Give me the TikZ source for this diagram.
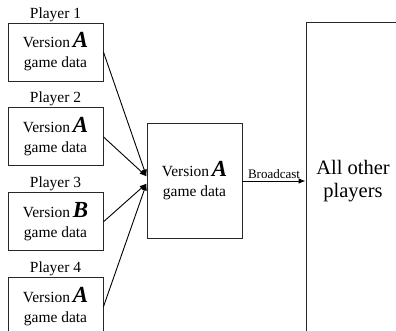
\documentclass[tikz,border=0pt]{standalone}
\usepackage{fontspec}
\setmainfont{Liberation Serif}
\usepackage{tikz}
\usetikzlibrary{arrows.meta, positioning}
\definecolor{mydark}{RGB}{40,40,40}
\newcommand{\verA}{Version\,{\fontsize{23}{23}\selectfont\bfseries\itshape A}}
\newcommand{\verB}{Version\,{\fontsize{23}{23}\selectfont\bfseries\itshape B}}
\tikzset{
  databox/.style={rectangle, draw=mydark, fill=white, line width=0.9pt,
    minimum width=95pt, minimum height=58pt, inner sep=2pt, align=center,
    font=\fontsize{15.5}{20}\selectfont},
  hubbox/.style={databox, minimum height=115pt},
  crowdbox/.style={rectangle, draw=mydark, line width=0.9pt,
    minimum width=94pt, minimum height=318pt, align=center,
    font=\fontsize{20.5}{23}\selectfont},
  player/.style={font=\fontsize{15.5}{16}\selectfont, inner sep=1pt},
  arrow/.style={-{Latex[length=7pt,width=5.5pt]}, line width=0.9pt, color=black}
}
\begin{document}
\begin{tikzpicture}[x=1pt, y=1pt, node distance=26pt]
  \clip (0,0) rectangle (396,330);
  \node[databox, label={[player]above:Player 1}] (p1) at (55.5,278) {\verA\\game data};
  \node[databox, below=of p1, label={[player]above:Player 2}] (p2) {\verA\\game data};
  \node[databox, below=of p2, label={[player]above:Player 3}] (p3) {\verB\\game data};
  \node[databox, below=of p3, label={[player]above:Player 4}] (p4) {\verA\\game data};

  \node[hubbox] (hub) at (194.5,149.5) {\verA\\game data};
  \node[crowdbox] (others) at (353,149) {All other\\players};

  \draw[arrow] (p1.east) -- ([yshift=4pt]hub.west);
  \draw[arrow] (p2.east) -- ([yshift=4pt]hub.west);
  \draw[arrow] (p3.east) -- ([yshift=-3pt]hub.west);
  \draw[arrow] (p4.east) -- ([yshift=-3pt]hub.west);
  \draw[arrow] ([yshift=-0.5pt]hub.east) -- node[above, font=\fontsize{13}{14}\selectfont, inner sep=2pt] {Broadcast} ([yshift=-0.5pt]hub.east -| others.west);
\end{tikzpicture}
\end{document}
